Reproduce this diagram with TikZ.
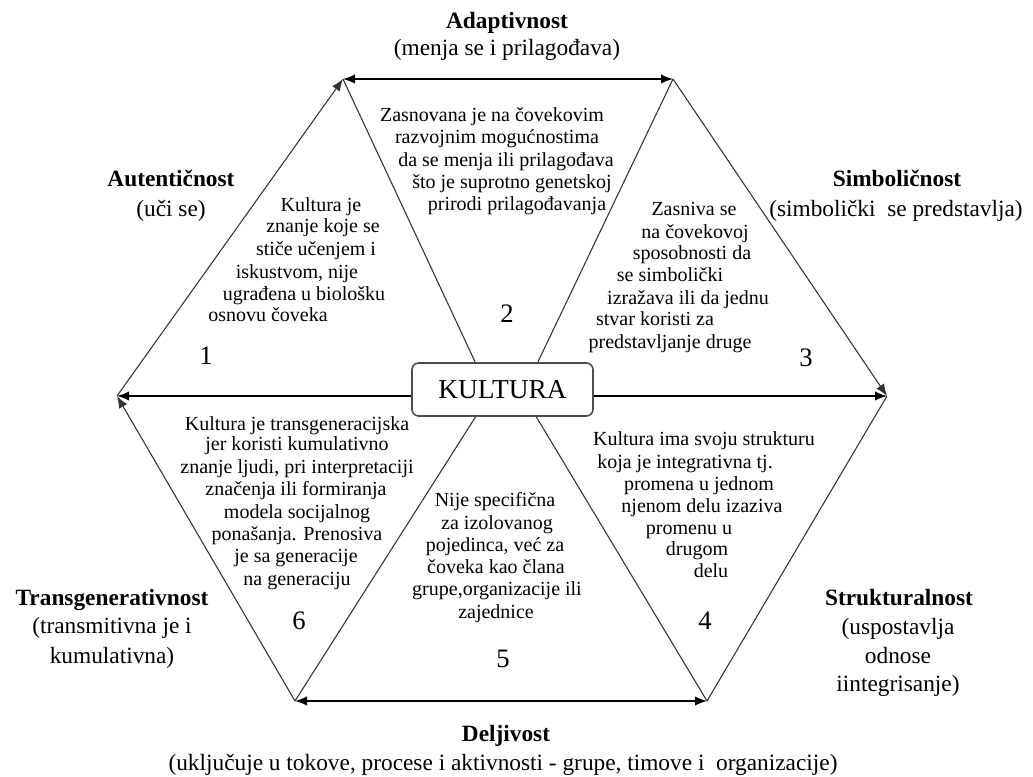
\documentclass[tikz,border=0pt]{standalone}
\usepackage{fontspec}
\setmainfont{Liberation Serif}
\usetikzlibrary{arrows.meta}
\tikzset{
  body/.style={inner sep=0pt, font=\rmfamily\fontsize{15}{17}\selectfont, text height=0.7em, text depth=0.22em},
  lab/.style={inner sep=0pt, font=\rmfamily\fontsize{17.5}{20}\selectfont, text height=0.7em, text depth=0.22em},
  labb/.style={lab, font=\rmfamily\fontsize{17.5}{20}\selectfont\bfseries},
  num/.style={inner sep=0pt, font=\rmfamily\fontsize{20}{22}\selectfont, text height=0.7em, text depth=0pt},
  edge/.style={line width=1.1pt, black},
  diag/.style={line width=0.8pt, black!80},
  tip/.style={-{Latex[length=9pt,width=7pt]}},
  kbox/.style={draw=black!70, line width=1.2pt, rounded corners=5pt, fill=white,
    minimum width=135.75pt, minimum height=39.75pt, inner sep=0pt,
    font=\rmfamily\fontsize{20.5}{22}\selectfont}
}
\begin{document}
\begin{tikzpicture}[x=0.75pt, y=-0.75pt]
\useasboundingbox (0,0) rectangle (1033,777);
% vertices
\coordinate (TL) at (343,79);
\coordinate (TR) at (673,79);
\coordinate (R)  at (887,396);
\coordinate (BR) at (707,701);
\coordinate (BL) at (295,701);
\coordinate (L)  at (117,396);
% points where the inner lines meet the box
\coordinate (KU1) at (477,366);
\coordinate (KU2) at (536,366);
\coordinate (KD1) at (478,413);
\coordinate (KD2) at (534,413);
% inner diagonals
\draw[diag] (TL) -- (KU1);
\draw[diag] (TR) -- (KU2);
\draw[diag] (BL) -- (KD1);
\draw[diag] (BR) -- (KD2);
% outer diagonals
\draw[diag, tip] (L) -- (TL);
\draw[diag, tip] (TR) -- (R);
\draw[diag] (BR) -- (R);
\draw[diag, tip] (BL) -- (L);
% horizontal edges
\draw[edge, {Latex[length=9pt,width=7pt]}-{Latex[length=9pt,width=7pt]}] (TL) -- (TR);
\draw[edge, {Latex[length=9pt,width=7pt]}-{Latex[length=9pt,width=7pt]}] (BL) -- (BR);
% centre box
\node[kbox] (k) at (502.5,389.5) {KULTURA};
\draw[edge, tip] (k.west |- L) -- (L);
\draw[edge, tip] (k.east |- R) -- (R);
% triangle texts
\foreach \x/\y/\t [count=\i] in {321/208/{Kultura je}, 323/229/{znanje koje se}, 316/252/{stiče učenjem i}, 297/275/{iskustvom, nije}, 304/297/{ugrađena u biološku}, 268/318/{osnovu čoveka}}
  \node[body] (ta\i) at (\x,\y) {\t};
\foreach \x/\y/\t [count=\i] in {492/118/{Zasnovana je na čovekovim}, 497/140/{razvojnim mogućnostima}, 506/163/{da se menja ili prilagođava}, 512/185/{što je suprotno genetskoj}, 517/207/{prirodi prilagođavanja}}
  \node[body] (tb\i) at (\x,\y) {\t};
\foreach \x/\y/\t [count=\i] in {694/212/{Zasniva se}, 695/235/{na čovekovoj}, 692/256/{sposobnosti da}, 670/278/{se simbolički}, 688/301/{izražava ili da jednu}, 655/322/{stvar koristi za}, 670/345/{predstavljanje druge}}
  \node[body] (tc\i) at (\x,\y) {\t};
\foreach \x/\y/\t [count=\i] in {704/442/{Kultura ima svoju strukturu}, 685/465/{koja je integrativna tj.}, 699/487/{promena u jednom}, 702/509/{njenom delu izaziva}, 689/531/{promenu u}, 697/552/{drugom}, 711/574/{delu}}
  \node[body] (td\i) at (\x,\y) {\t};
\foreach \x/\y/\t [count=\i] in {495/503/{Nije specifična}, 497/526/{za izolovanog}, 495/548/{pojedinca, već za}, 496/570/{čoveka kao člana}, 497/592/{grupe,organizacije ili}, 496/615/{zajednice}}
  \node[body] (te\i) at (\x,\y) {\t};
\foreach \x/\y/\t [count=\i] in {297/427/{Kultura je transgeneracijska}, 297/447/{jer koristi kumulativno}, 297/470/{znanje ljudi, pri interpretaciji}, 296/492/{značenja ili formiranja}, 297/515/{modela socijalnog}, 297/537/{ponašanja. Prenosiva}, 296/559/{je sa generacije}, 297/582/{na generaciju}}
  \node[body] (tf\i) at (\x,\y) {\t};
% numbers
\node[num] (n1) at (206,360) {1};
\node[num] (n2) at (507,318) {2};
\node[num] (n3) at (806,362) {3};
\node[num] (n4) at (705,625) {4};
\node[num] (n5) at (503,663) {5};
\node[num] (n6) at (299,625) {6};
% outer labels
\node[labb] (la1) at (507,25) {Adaptivnost};
\node[lab]  (la2) at (507,52) {(menja se i prilagođava)};
\node[labb] (lb1) at (171,183) {Autentičnost};
\node[lab]  (lb2) at (171,213) {(uči se)};
\node[labb] (lc1) at (897,183) {Simboličnost};
\node[lab]  (lc2) at (896,213) {(simbolički\ \ se predstavlja)};
\node[labb] (ld1) at (112,602) {Transgenerativnost};
\node[lab]  (ld2) at (112,630) {(transmitivna je i};
\node[lab]  (ld3) at (112,660) {kumulativna)};
\node[labb] (le1) at (899,602) {Strukturalnost};
\node[lab]  (le2) at (898,631) {(uspostavlja};
\node[lab]  (le3) at (898,660) {odnose};
\node[lab]  (le4) at (898,688) {iintegrisanje)};
\node[labb] (lf1) at (506,738) {Deljivost};
\node[lab]  (lf2) at (503,767) {(uključuje u tokove, procese i aktivnosti - grupe, timove i\ \ organizacije)};
\end{tikzpicture}
\end{document}
